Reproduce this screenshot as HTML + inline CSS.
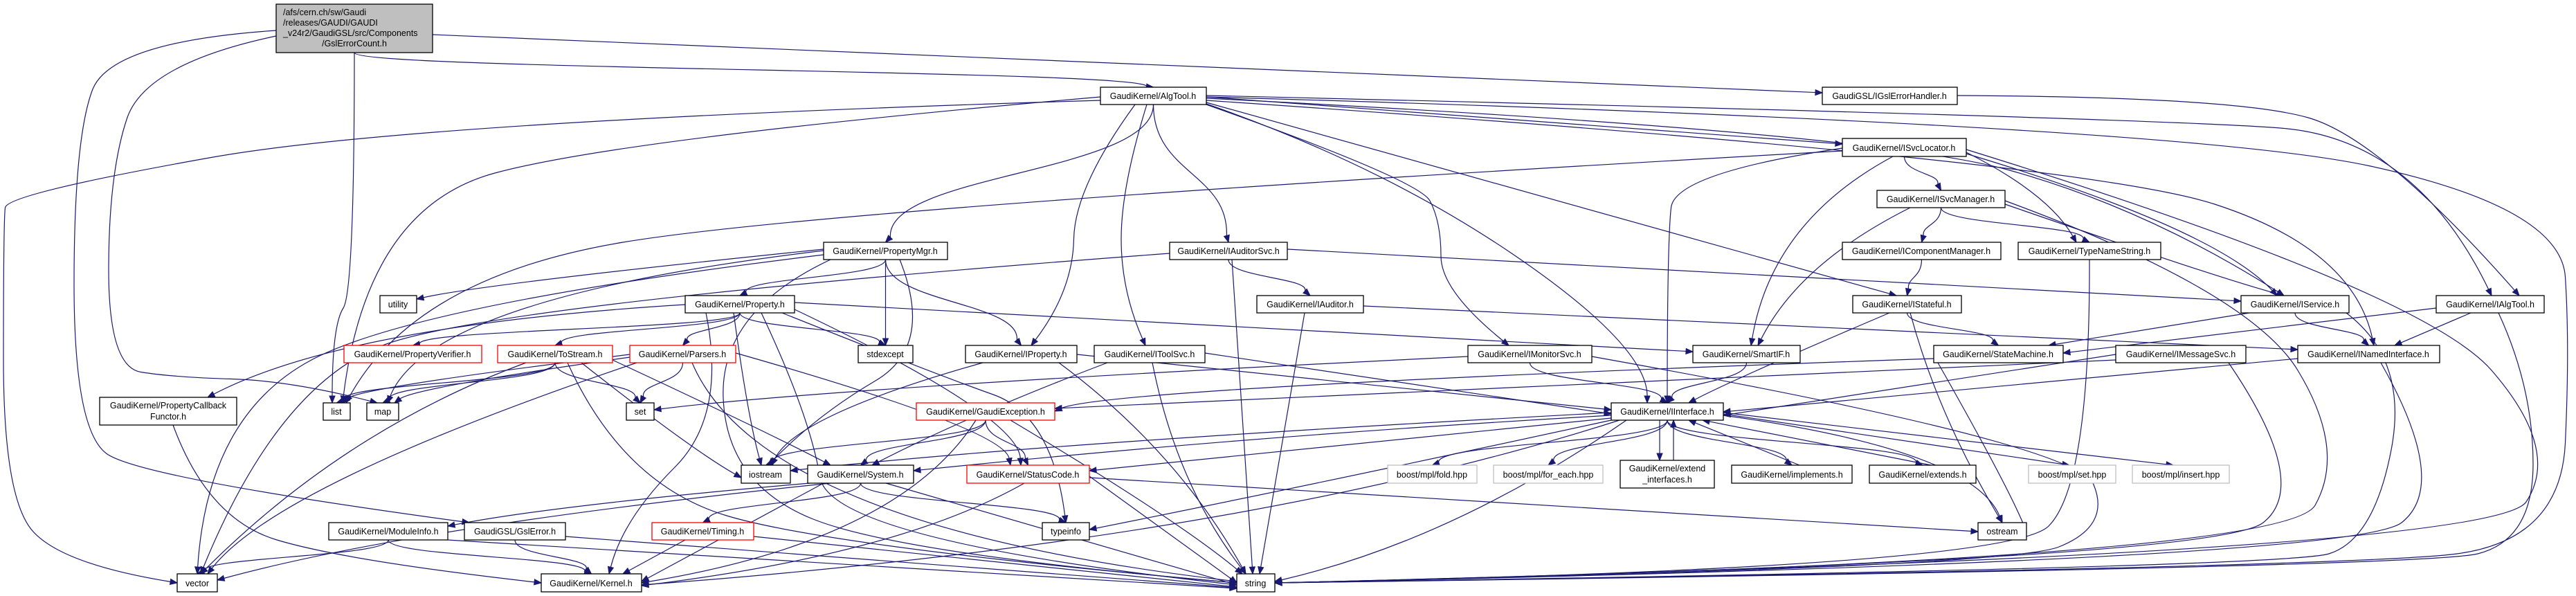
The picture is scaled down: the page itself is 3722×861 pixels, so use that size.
<!DOCTYPE html>
<html><head><meta charset="utf-8">
<style>
html,body{margin:0;padding:0;background:#fff;}
svg{display:block;}
text{font-family:"Liberation Sans",sans-serif;font-size:12.5px;fill:#000;}
</style></head>
<body>
<svg id="g" width="3722" height="861" viewBox="0 0 3722 861" xmlns="http://www.w3.org/2000/svg">
<g id="edges" fill="none" stroke="#191970" stroke-width="1.2"></g>
<g id="arrows" fill="#191970" stroke="#191970"></g>
<g id="nodes" stroke-width="1.3">
<rect x="399" y="6" width="226" height="70" fill="#bfbfbf" stroke="#000"/>
<text x="409" y="22">/afs/cern.ch/sw/Gaudi</text>
<text x="409" y="37">/releases/GAUDI/GAUDI</text>
<text x="409" y="52">_v24r2/GaudiGSL/src/Components</text>
<text x="512" y="67" text-anchor="middle">/GslErrorCount.h</text>

<rect x="1590" y="126" width="153" height="25" fill="#fff" stroke="#000"/><text x="1666" y="143" text-anchor="middle">GaudiKernel/AlgTool.h</text>
<rect x="2633" y="126" width="195" height="25" fill="#fff" stroke="#000"/><text x="2730" y="143" text-anchor="middle">GaudiGSL/IGslErrorHandler.h</text>
<rect x="2662" y="200" width="179" height="26" fill="#fff" stroke="#000"/><text x="2751" y="218" text-anchor="middle">GaudiKernel/ISvcLocator.h</text>
<rect x="2712" y="275" width="185" height="25" fill="#fff" stroke="#000"/><text x="2804" y="292" text-anchor="middle">GaudiKernel/ISvcManager.h</text>
<rect x="1190" y="350" width="179" height="25" fill="#fff" stroke="#000"/><text x="1279" y="367" text-anchor="middle">GaudiKernel/PropertyMgr.h</text>
<rect x="1690" y="350" width="170" height="25" fill="#fff" stroke="#000"/><text x="1775" y="367" text-anchor="middle">GaudiKernel/IAuditorSvc.h</text>
<rect x="2662" y="350" width="229" height="25" fill="#fff" stroke="#000"/><text x="2776" y="367" text-anchor="middle">GaudiKernel/IComponentManager.h</text>
<rect x="2916" y="350" width="206" height="25" fill="#fff" stroke="#000"/><text x="3019" y="367" text-anchor="middle">GaudiKernel/TypeNameString.h</text>
<rect x="549" y="427" width="53" height="25" fill="#fff" stroke="#000"/><text x="575" y="444" text-anchor="middle">utility</text>
<rect x="990" y="427" width="158" height="25" fill="#fff" stroke="#000"/><text x="1069" y="444" text-anchor="middle">GaudiKernel/Property.h</text>
<rect x="1816" y="427" width="154" height="25" fill="#fff" stroke="#000"/><text x="1893" y="444" text-anchor="middle">GaudiKernel/IAuditor.h</text>
<rect x="2677" y="427" width="157" height="25" fill="#fff" stroke="#000"/><text x="2755" y="444" text-anchor="middle">GaudiKernel/IStateful.h</text>
<rect x="3238" y="427" width="156" height="25" fill="#fff" stroke="#000"/><text x="3316" y="444" text-anchor="middle">GaudiKernel/IService.h</text>
<rect x="3520" y="427" width="156" height="25" fill="#fff" stroke="#000"/><text x="3598" y="444" text-anchor="middle">GaudiKernel/IAlgTool.h</text>
<rect x="497" y="499" width="199" height="25" fill="#fff" stroke="#f00"/><text x="596" y="516" text-anchor="middle">GaudiKernel/PropertyVerifier.h</text>
<rect x="719" y="499" width="166" height="25" fill="#fff" stroke="#f00"/><text x="802" y="516" text-anchor="middle">GaudiKernel/ToStream.h</text>
<rect x="910" y="499" width="153" height="25" fill="#fff" stroke="#f00"/><text x="986" y="516" text-anchor="middle">GaudiKernel/Parsers.h</text>
<rect x="1240" y="499" width="79" height="25" fill="#fff" stroke="#000"/><text x="1279" y="516" text-anchor="middle">stdexcept</text>
<rect x="1395" y="499" width="161" height="25" fill="#fff" stroke="#000"/><text x="1475" y="516" text-anchor="middle">GaudiKernel/IProperty.h</text>
<rect x="1581" y="499" width="160" height="25" fill="#fff" stroke="#000"/><text x="1661" y="516" text-anchor="middle">GaudiKernel/IToolSvc.h</text>
<rect x="2121" y="499" width="179" height="25" fill="#fff" stroke="#000"/><text x="2210" y="516" text-anchor="middle">GaudiKernel/IMonitorSvc.h</text>
<rect x="2446" y="499" width="155" height="25" fill="#fff" stroke="#000"/><text x="2523" y="516" text-anchor="middle">GaudiKernel/SmartIF.h</text>
<rect x="2794" y="499" width="187" height="25" fill="#fff" stroke="#000"/><text x="2887" y="516" text-anchor="middle">GaudiKernel/StateMachine.h</text>
<rect x="3057" y="499" width="188" height="25" fill="#fff" stroke="#000"/><text x="3151" y="516" text-anchor="middle">GaudiKernel/IMessageSvc.h</text>
<rect x="3320" y="499" width="205" height="25" fill="#fff" stroke="#000"/><text x="3422" y="516" text-anchor="middle">GaudiKernel/INamedInterface.h</text>
<rect x="144" y="574" width="198" height="40" fill="#fff" stroke="#000"/><text x="243" y="590" text-anchor="middle">GaudiKernel/PropertyCallback</text><text x="243" y="606" text-anchor="middle">Functor.h</text>
<rect x="467" y="582" width="39" height="25" fill="#fff" stroke="#000"/><text x="486" y="599" text-anchor="middle">list</text>
<rect x="530" y="582" width="46" height="25" fill="#fff" stroke="#000"/><text x="553" y="599" text-anchor="middle">map</text>
<rect x="905" y="582" width="40" height="25" fill="#fff" stroke="#000"/><text x="925" y="599" text-anchor="middle">set</text>
<rect x="1324" y="582" width="200" height="25" fill="#fff" stroke="#f00"/><text x="1424" y="599" text-anchor="middle">GaudiKernel/GaudiException.h</text>
<rect x="2328" y="582" width="162" height="25" fill="#fff" stroke="#000"/><text x="2409" y="599" text-anchor="middle">GaudiKernel/IInterface.h</text>
<rect x="1071" y="672" width="71" height="26" fill="#fff" stroke="#000"/><text x="1106" y="690" text-anchor="middle">iostream</text>
<rect x="1167" y="672" width="153" height="26" fill="#fff" stroke="#000"/><text x="1243" y="690" text-anchor="middle">GaudiKernel/System.h</text>
<rect x="1397" y="672" width="177" height="26" fill="#fff" stroke="#f00"/><text x="1485" y="690" text-anchor="middle">GaudiKernel/StatusCode.h</text>
<rect x="2005" y="672" width="129" height="26" fill="#fff" stroke="#bfbfbf"/><text x="2069" y="690" text-anchor="middle">boost/mpl/fold.hpp</text>
<rect x="2158" y="672" width="158" height="26" fill="#fff" stroke="#bfbfbf"/><text x="2237" y="690" text-anchor="middle">boost/mpl/for_each.hpp</text>
<rect x="2341" y="665" width="136" height="40" fill="#fff" stroke="#000"/><text x="2409" y="681" text-anchor="middle">GaudiKernel/extend</text><text x="2409" y="697" text-anchor="middle">_interfaces.h</text>
<rect x="2502" y="672" width="174" height="26" fill="#fff" stroke="#000"/><text x="2589" y="690" text-anchor="middle">GaudiKernel/implements.h</text>
<rect x="2701" y="672" width="154" height="26" fill="#fff" stroke="#000"/><text x="2778" y="690" text-anchor="middle">GaudiKernel/extends.h</text>
<rect x="2931" y="672" width="126" height="26" fill="#fff" stroke="#bfbfbf"/><text x="2994" y="690" text-anchor="middle">boost/mpl/set.hpp</text>
<rect x="3081" y="672" width="140" height="26" fill="#fff" stroke="#bfbfbf"/><text x="3151" y="690" text-anchor="middle">boost/mpl/insert.hpp</text>
<rect x="475" y="755" width="172" height="25" fill="#fff" stroke="#000"/><text x="561" y="772" text-anchor="middle">GaudiKernel/ModuleInfo.h</text>
<rect x="671" y="755" width="146" height="25" fill="#fff" stroke="#000"/><text x="744" y="772" text-anchor="middle">GaudiGSL/GslError.h</text>
<rect x="942" y="755" width="147" height="25" fill="#fff" stroke="#f00"/><text x="1015" y="772" text-anchor="middle">GaudiKernel/Timing.h</text>
<rect x="1506" y="755" width="68" height="25" fill="#fff" stroke="#000"/><text x="1540" y="772" text-anchor="middle">typeinfo</text>
<rect x="2858" y="755" width="70" height="25" fill="#fff" stroke="#000"/><text x="2893" y="772" text-anchor="middle">ostream</text>
<rect x="256" y="829" width="58" height="26" fill="#fff" stroke="#000"/><text x="285" y="847" text-anchor="middle">vector</text>
<rect x="782" y="829" width="145" height="26" fill="#fff" stroke="#000"/><text x="854" y="847" text-anchor="middle">GaudiKernel/Kernel.h</text>
<rect x="1787" y="829" width="55" height="26" fill="#fff" stroke="#000"/><text x="1814" y="847" text-anchor="middle">string</text>
</g>
</svg>
<script>
var N={root:[399,6,625,76],AlgTool:[1590,126,1743,151],IGsl:[2633,126,2828,151],ISvcLoc:[2662,200,2841,226],ISvcMgr:[2712,275,2897,300],PMgr:[1190,350,1369,375],IAudSvc:[1690,350,1860,375],ICompMgr:[2662,350,2891,375],TNS:[2916,350,3122,375],utility:[549,427,602,452],Prop:[990,427,1148,452],IAud:[1816,427,1970,452],IStateful:[2677,427,2834,452],IService:[3238,427,3394,452],IAlgTool:[3520,427,3676,452],PVer:[497,499,696,524],ToStream:[719,499,885,524],Parsers:[910,499,1063,524],stdexcept:[1240,499,1319,524],IProp:[1395,499,1556,524],IToolSvc:[1581,499,1741,524],IMon:[2121,499,2300,524],SmartIF:[2446,499,2601,524],SM:[2794,499,2981,524],IMsg:[3057,499,3245,524],INamed:[3320,499,3525,524],PCF:[144,574,342,614],list:[467,582,506,607],map:[530,582,576,607],set:[905,582,945,607],GExc:[1324,582,1524,607],IInt:[2328,582,2490,607],iostream:[1071,672,1142,698],System:[1167,672,1320,698],SC:[1397,672,1574,698],fold:[2005,672,2134,698],foreach:[2158,672,2316,698],extIf:[2341,665,2477,705],impl:[2502,672,2676,698],ext:[2701,672,2855,698],setHpp:[2931,672,3057,698],insHpp:[3081,672,3221,698],ModInfo:[475,755,647,780],GslErr:[671,755,817,780],Timing:[942,755,1089,780],typeinfo:[1506,755,1574,780],ostream:[2858,755,2928,780],vector:[256,829,314,855],Kernel:[782,829,927,855],string:[1787,829,1842,855]};
function cx(n){return (N[n][0]+N[n][2])/2}
var E=[
['root','GslErr',[[399,44],[160,60],[107,200],[107,620],[200,690],[678,755]]],
['root','map',[[399,52],[210,92],[157,250],[157,530],[250,545],[420,550],[545,582]]],
['root','list',[[512,76],[512,420],[480,470],[480,582]]],
['root','AlgTool'],['root','IGsl',[[625,50],[2633,134]]],
['AlgTool','vector',[[1590,145],[600,175],[10,280],[5,320],[5,720],[90,815],[256,842]]],
['AlgTool','PMgr'],['AlgTool','IAudSvc'],
['AlgTool','IProp',[[1640,151],[1553,270],[1550,420],[1490,499]]],
['AlgTool','IToolSvc',[[1657,151],[1620,270],[1620,420],[1655,499]]],
['AlgTool','IMon',[[1743,151],[2050,260],[2082,320],[2082,420],[2180,499]]],
['AlgTool','IStateful',[[1743,148],[2740,427]]],
['AlgTool','ISvcLoc',[[1743,140],[2662,208]]],
['AlgTool','IService',[[1743,142],[2700,190],[3100,300],[3300,427]]],
['AlgTool','IAlgTool',[[1743,138],[3100,170],[3490,200],[3600,427]]],
['AlgTool','INamed',[[1743,145],[3000,230],[3400,360],[3430,499]]],
['AlgTool','IInt',[[1743,150],[2000,240],[2380,500],[2380,582]]],
['AlgTool','list',[[1590,140],[900,200],[530,300],[495,582]]],
['AlgTool','string',[[1743,140],[3150,180],[3700,300],[3713,500],[3700,780],[3400,820],[1842,842]]],
['IGsl','IAlgTool',[[2828,138],[3230,140],[3440,200],[3640,427]]],
['PMgr','utility',[[1190,360],[700,410],[602,432]]],
['PMgr','Prop'],['PMgr','stdexcept'],['PMgr','IProp'],
['PMgr','map',[[1190,362],[620,430],[560,582]]],
['PMgr','vector',[[1190,368],[600,440],[300,600],[285,829]]],
['PMgr','iostream',[[1300,375],[1350,500],[1180,600],[1110,672]]],
['PMgr','string',[[1200,375],[1040,450],[1050,700],[1300,800],[1787,842]]],
['IAudSvc','IService',[[1860,360],[3238,435]]],
['IAudSvc','IAud'],['IAudSvc','string',[[1780,375],[1810,829]]],
['IAudSvc','vector',[[1690,366],[700,440],[400,560],[290,829]]],
['IAud','INamed',[[1970,442],[3320,505]]],['IAud','string',[[1885,452],[1820,829]]],
['ISvcLoc','ISvcMgr'],['ISvcLoc','TNS',[[2841,220],[2960,280],[3000,350]]],
['ISvcLoc','SmartIF',[[2735,226],[2560,320],[2530,499]]],
['ISvcLoc','IInt',[[2662,214],[2420,250],[2409,350],[2409,582]]],
['ISvcLoc','IService',[[2841,222],[3200,330],[3290,427]]],
['ISvcLoc','string',[[2841,216],[3500,420],[3700,650],[3600,800],[1842,842]]],
['ISvcLoc','list',[[2662,218],[1200,300],[600,400],[500,582]]],
['ISvcMgr','ICompMgr'],['ISvcMgr','TNS'],
['ISvcMgr','SmartIF',[[2760,300],[2600,380],[2540,499]]],
['ISvcMgr','IService',[[2897,295],[3200,400],[3300,427]]],
['ISvcMgr','string',[[2897,290],[3250,420],[3390,650],[3300,810],[1842,842]]],
['ICompMgr','IStateful'],
['TNS','string',[[3019,375],[3020,700],[2900,820],[1842,842]]],
['IStateful','SM'],['IStateful','IInt',[[2730,452],[2500,550],[2440,582]]],
['IStateful','ostream',[[2760,452],[2800,600],[2893,755]]],
['IService','SM',[[3250,452],[2960,499]]],['IService','INamed'],
['IService','string',[[3390,452],[3480,520],[3430,780],[3300,820],[1842,842]]],
['IAlgTool','INamed',[[3570,452],[3460,499]]],['IAlgTool','SM',[[3520,445],[2981,510]]],
['IAlgTool','string',[[3610,452],[3660,560],[3660,780],[3500,820],[1842,842]]],
['INamed','IInt',[[3320,518],[2490,595]]],
['INamed','string',[[3440,524],[3540,700],[3400,810],[1842,842]]],
['IMsg','IInt',[[3057,512],[2490,600]]],
['IMsg','string',[[3220,524],[3340,700],[3200,810],[1842,842]]],
['IMsg','GExc',[[3057,520],[2200,560],[1524,590]]],
['SM','GExc',[[2794,518],[1600,560],[1524,594]]],['SM','ostream',[[2800,524],[2900,700],[2928,768]]],
['SmartIF','IInt'],['IMon','IInt'],['IMon','set',[[2121,515],[1200,560],[945,592]]],
['IMon','string',[[2300,515],[3000,640],[3050,760],[2900,820],[1842,842]]],
['Prop','PCF',[[990,440],[500,470],[300,574]]],['Prop','PVer'],['Prop','ToStream'],['Prop','Parsers'],['Prop','stdexcept'],
['Prop','SmartIF',[[1148,437],[2446,508]]],
['Prop','string',[[1100,452],[1170,600],[1200,780],[1787,845]]],
['Prop','Kernel',[[1020,452],[1050,600],[900,750],[880,829]]],
['Prop','typeinfo',[[1130,452],[1350,540],[1520,600],[1540,755]]],
['Prop','iostream',[[1060,452],[1080,600],[1100,672]]],
['Prop','SC',[[1148,447],[1470,600],[1475,672]]],
['ToStream','list'],['ToStream','map'],['ToStream','set'],['ToStream','vector',[[760,524],[500,620],[290,829]]],
['ToStream','string',[[820,524],[900,700],[1200,790],[1787,842]]],
['ToStream','iostream',[[840,524],[1000,650],[1071,690]]],['ToStream','System',[[885,520],[1100,620],[1200,672]]],
['Parsers','list',[[910,512],[520,560],[495,582]]],['Parsers','map',[[910,516],[600,560],[570,582]]],['Parsers','set'],
['Parsers','vector',[[920,524],[400,700],[300,829]]],['Parsers','SC',[[1063,510],[1450,620],[1460,672]]],
['Parsers','string',[[1000,524],[1100,760],[1787,840]]],
['PCF','Kernel',[[250,614],[300,750],[500,810],[782,842]]],
['IProp','IInt',[[1556,512],[2328,592]]],['IProp','iostream',[[1420,524],[1150,600],[1115,672]]],
['IProp','string',[[1530,524],[1700,650],[1800,829]]],
['IToolSvc','IInt',[[1741,510],[2328,598]]],['IToolSvc','System',[[1600,524],[1400,600],[1260,672]]],
['IToolSvc','string',[[1665,524],[1700,700],[1800,829]]],
['GExc','iostream'],['GExc','System'],['GExc','SC'],['GExc','string',[[1460,607],[1700,750],[1795,829]]],
['GExc','Kernel',[[1410,607],[1300,780],[927,842]]],
['IInt','System',[[2328,600],[1800,630],[1320,680]]],['IInt','SC',[[2328,604],[1574,680]]],
['IInt','fold'],['IInt','foreach'],['IInt','extIf',[[2398,607],[2398,665]]],['IInt','impl'],['IInt','ext'],
['IInt','setHpp',[[2490,598],[2990,672]]],['IInt','insHpp',[[2490,596],[3140,672]]],
['IInt','ostream',[[2490,600],[2850,650],[2893,755]]],['IInt','typeinfo',[[2328,607],[1900,700],[1574,765]]],
['IInt','Kernel',[[2340,607],[1800,780],[927,845]]],['IInt','string',[[2350,607],[2100,780],[1842,840]]],
['IInt','iostream',[[2328,596],[1500,640],[1142,680]]],
['extIf','IInt',[[2418,665],[2418,607]]],['impl','IInt',[[2600,672],[2440,607]]],['ext','IInt',[[2790,672],[2460,607]]],
['System','vector',[[1200,698],[600,760],[314,838]]],['System','string',[[1280,698],[1787,845]]],
['System','typeinfo'],['System','Timing'],['System','Kernel',[[1190,698],[927,840]]],
['System','ModInfo',[[1170,698],[800,730],[647,760]]],
['SC','Kernel',[[1480,698],[1300,800],[927,846]]],['SC','ostream',[[1574,690],[2858,768]]],['SC','string',[[1574,688],[1787,842]]],
['Timing','Kernel',[[990,780],[900,829]]],['Timing','string',[[1089,775],[1787,848]]],
['ModInfo','vector'],['ModInfo','Kernel'],['ModInfo','string',[[647,780],[1787,850]]],
['GslErr','Kernel'],['GslErr','string',[[817,775],[1787,849]]]
];
var eg=document.getElementById('edges'),ag=document.getElementById('arrows'),ns='http://www.w3.org/2000/svg';
function arrow(p,q){var dx=q[0]-p[0],dy=q[1]-p[1],l=Math.hypot(dx,dy)||1;dx/=l;dy/=l;var L=10,W=4;
var bx=q[0]-dx*L,by=q[1]-dy*L;var a=document.createElementNS(ns,'polygon');
a.setAttribute('points',q[0]+','+q[1]+' '+(bx-dy*W)+','+(by+dx*W)+' '+(bx+dy*W)+','+(by-dx*W));ag.appendChild(a);
return [bx,by];}
E.forEach(function(e){var pts=e[2];var d;
 if(!pts){var s=N[e[0]],t=N[e[1]];var sx=cx(e[0]),tx=cx(e[1]);
  if(t[1]>s[3]){var sy=s[3],ty=t[1];var m=(sy+ty)/2;var end=[tx,ty];
   var b=arrow([tx+(sx-tx)*0.15,ty-(ty-sy)*0.3],end);
   d='M'+sx+','+sy+' C'+sx+','+m+' '+tx+','+m+' '+b[0]+','+b[1];}
  else{var sy2=(s[1]+s[3])/2,ty2=(t[1]+t[3])/2;var sxx=tx>sx?s[2]:s[0],txx=tx>sx?t[0]:t[2];
   var b2=arrow([sxx,sy2],[txx,ty2]);d='M'+sxx+','+sy2+' L'+b2[0]+','+b2[1];}
 } else {var n=pts.length;d='M'+pts[0][0]+','+pts[0][1];var last=pts[0];
  for(var i=1;i<n-1;i++){var mx=(pts[i][0]+pts[i+1][0])/2,my=(pts[i][1]+pts[i+1][1])/2;
   if(i==n-2){last=pts[i];var b3=arrow(pts[i],pts[n-1]);d+=' Q'+pts[i][0]+','+pts[i][1]+' '+b3[0]+','+b3[1];}
   else d+=' Q'+pts[i][0]+','+pts[i][1]+' '+mx+','+my;}
  if(n==2){var b4=arrow(pts[0],pts[1]);d+=' L'+b4[0]+','+b4[1];}}
 var p=document.createElementNS(ns,'path');p.setAttribute('d',d);eg.appendChild(p);});
</script>
</body></html>
